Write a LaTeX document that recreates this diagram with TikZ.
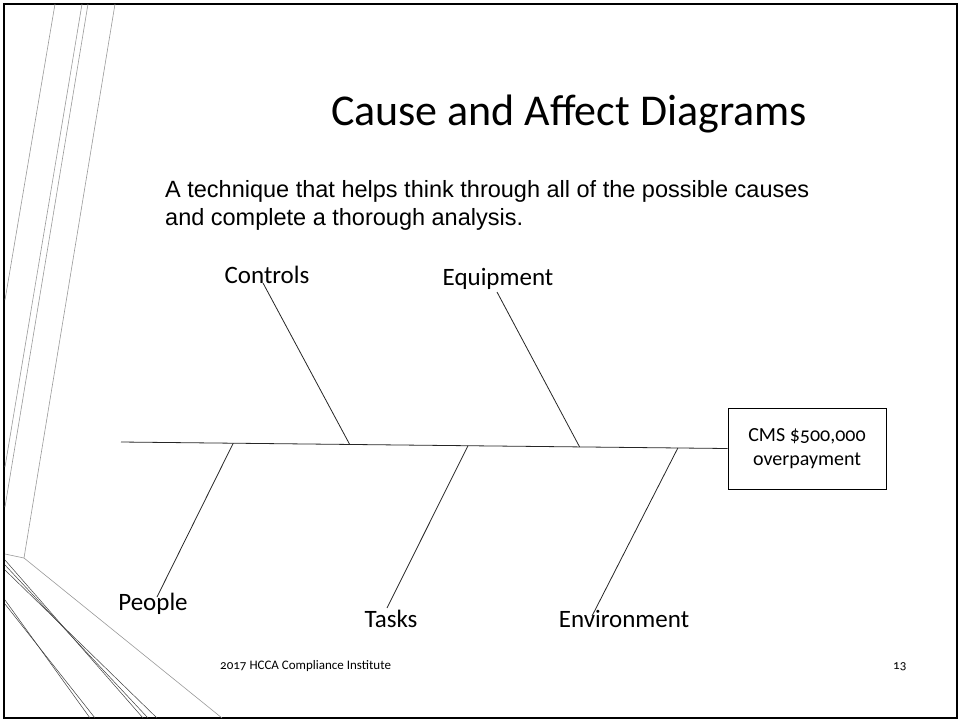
\documentclass[tikz,border=0pt]{standalone}
\usepackage{fontspec}
\setmainfont{Carlito}
\newfontfamily\bodyfont{Liberation Sans}
\newfontfamily\oldnums[Numbers=OldStyle]{Carlito}
\usetikzlibrary{calc}

\begin{document}
\begin{tikzpicture}[
      x=1pt, y=-1pt,
      every node/.style={inner sep=0pt},
      causetext/.style={font=\fontsize{25}{30}\selectfont, anchor=base},
      introtext/.style={font=\bodyfont\fontsize{23.5}{28}\selectfont, anchor=base west},
      bone/.style={draw=black!85, line width=0.8pt},
      deco/.style={draw=black!40, line width=0.6pt},
      decodark/.style={draw=black!75, line width=0.5pt}
    ]
  \useasboundingbox (0,0) rectangle (960,721);
  % slide frame and side ornament
  \draw[line width=2pt] (4,4) rectangle (957,718);
  \draw[deco] (55,4) -- (5,300);
  \draw[deco] (82,4) -- (5,467);
  \draw[deco] (88,4) -- (5,507);
  \draw[deco] (115,4) -- (24,558) -- (222,718);
  \draw[deco] (5,554) -- (24,558);
  \draw[decodark] (5,560) -- (143,718);
  \draw[decodark] (5,565) -- (148,718);
  \draw[decodark] (5,570) -- (157,718);
  \draw[decodark] (5,600) -- (90,718);
  \draw[decodark] (5,604) -- (95,718);

  % title and text
  \node[anchor=base] (title) at (569,125) {\fontsize{44}{52}\selectfont Cause and Affect Diagrams};
  \node[introtext] (intro) at (165,197) {A technique that helps think through all of the possible causes};
  \node[introtext] (intro2) at (165,225) {and complete a thorough analysis.};

  % effect and spine
  \node[draw, line width=0.8pt, minimum width=158pt, minimum height=81pt, align=center,
    font=\oldnums\fontsize{20}{24}\selectfont] (effect) at (807,448.5) {CMS \$500,000\\overpayment};
  \coordinate (tail) at (121,442);
  \draw[bone] (tail) -- (effect.west);

  % causes
  \node[causetext] (controls) at (267,283) {Controls};
  \node[causetext] (equipment) at (498,285) {Equipment};
  \node[causetext] (people) at (153,610) {People};
  \node[causetext] (tasks) at (391,627) {Tasks};
  \node[causetext] (environment) at (624,627) {Environment};

  \coordinate (c1) at (263,283);
  \coordinate (c2) at (497,292);
  \coordinate (c3) at (157,597);
  \coordinate (c4) at (387,608);
  \coordinate (c5) at (592,616);

  \draw[bone] (c1) -- ($(tail)!0.377!(effect.west)$);
  \draw[bone] (c2) -- ($(tail)!0.756!(effect.west)$);
  \draw[bone] (c3) -- ($(tail)!0.185!(effect.west)$);
  \draw[bone] (c4) -- ($(tail)!0.572!(effect.west)$);
  \draw[bone] (c5) -- ($(tail)!0.918!(effect.west)$);

  % footer
  \node[anchor=base west, font=\oldnums\fontsize{13}{15}\selectfont] (footer) at (220,669) {2017 HCCA Compliance Institute};
  \node[anchor=base west, font=\oldnums\fontsize{13}{15}\selectfont] (page) at (893,669) {13};
\end{tikzpicture}
\end{document}
